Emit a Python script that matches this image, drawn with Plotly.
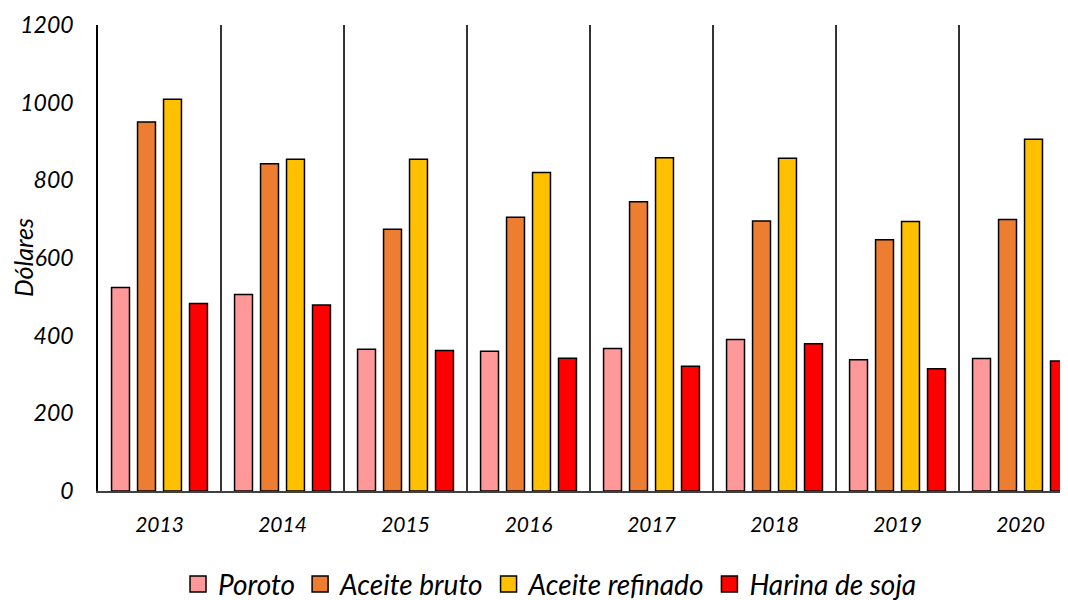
import plotly.graph_objects as go

years = ["2013", "2014", "2015", "2016", "2017", "2018", "2019", "2020"]
poroto = [524, 506, 365, 360, 367, 390, 338, 341]
aceite_bruto = [950, 843, 674, 705, 745, 695, 647, 699]
aceite_refinado = [1009, 854, 854, 820, 858, 857, 694, 906]
harina_soja = [483, 479, 362, 342, 321, 379, 315, 335]

series = [
    ("Poroto", poroto, "#FF9999"),
    ("Aceite bruto", aceite_bruto, "#ED7D31"),
    ("Aceite refinado", aceite_refinado, "#FFC000"),
    ("Harina de soja", harina_soja, "#FF0000"),
]

FONT = "Lato"

fig = go.Figure()
for name, vals, col in series:
    fig.add_trace(go.Bar(
        x=years, y=vals, name=name, showlegend=False,
        marker=dict(color=col, line=dict(color="black", width=1.5)),
    ))
# legend entries with larger square swatches
for name, vals, col in series:
    fig.add_trace(go.Scatter(
        x=[None], y=[None], mode="markers", name=name, showlegend=True,
        marker=dict(symbol="square", size=16, color=col, line=dict(color="black", width=1.5)),
    ))

# vertical dividers between categories
for k in range(len(years) - 1):
    fig.add_shape(type="line", xref="x", yref="paper",
                  x0=k + 0.5, x1=k + 0.5, y0=0, y1=1,
                  line=dict(color="black", width=1.6), layer="below")

fig.add_annotation(text="Dólares", xref="paper", yref="paper", x=-0.0773, y=0.5,
                   xanchor="center", yanchor="middle", textangle=-90, showarrow=False,
                   borderpad=0,
                   font=dict(family=FONT, size=25, style="italic", color="black"))

fig.update_layout(
    width=1060, height=592,
    margin=dict(l=90, r=0, t=17, b=109, autoexpand=False),
    plot_bgcolor="white", paper_bgcolor="white",
    barmode="group", bargap=0.155, bargroupgap=0.31,
    font=dict(family=FONT, color="black"),
    showlegend=True,
    legend=dict(orientation="h", x=0.466, xanchor="center", y=-0.2, yanchor="middle",
                font=dict(family=FONT, size=28, style="italic", color="black"),
                traceorder="normal", itemwidth=30, itemsizing="trace"),
    xaxis=dict(range=[-0.5, 7.386], showline=True, linecolor="#404040", linewidth=1.5,
               ticks="", showgrid=False, automargin=False, ticklabelstandoff=14,
               tickfont=dict(family=FONT, size=21, style="italic", color="black")),
    yaxis=dict(range=[0, 1200], dtick=200, showline=True, linecolor="black", linewidth=1.6,
               showgrid=False, zeroline=False, ticks="", automargin=False,
               ticklabelstandoff=18,
               tickfont=dict(family=FONT, size=23, style="italic", color="black")),
)

fig.write_html("out.html")
